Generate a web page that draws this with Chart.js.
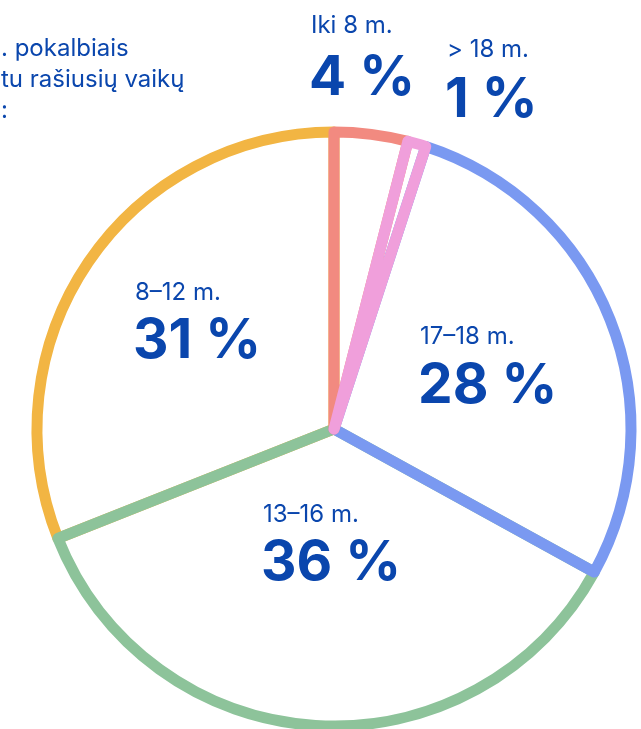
<!DOCTYPE html>
<html lang="lt">
<head>
<meta charset="utf-8">
<script src="https://cdn.jsdelivr.net/npm/chart.js@4/dist/chart.umd.min.js"></script>
<style>
  html, body { margin: 0; padding: 0; background: #fff; overflow: hidden; }
  .chart-container { position: relative; width: 641px; height: 729px; }
</style>
</head>
<body>
<div class="chart-container">
  <canvas id="ageChart"></canvas>
</div>
<script>
// Data
const categories = ['Iki 8 m.', '> 18 m.', '17–18 m.', '13–16 m.', '8–12 m.'];
const shares = [4, 1, 28, 36, 31];
const sliceColors = ['#f28a80', '#f09fdb', '#7a99f1', '#8dc39a', '#f2b543'];
const introLines = ['. pokalbiais', 'tu rašiusių vaikų', ':'];

// Visual layout (not data)
const textBlue = '#0a46ad';
const drawOrder = [4, 3, 2, 0, 1];
const labelSpots = [
    { x: 311, small: 33, big: 95 },
    { x: 447, small: 57, big: 117 },
    { x: 420, small: 344, big: 403 },
    { x: 263, small: 522, big: 580 },
    { x: 135, small: 300, big: 358 }
];

const orderedArcs = {
    id: 'orderedArcs',
    beforeDatasetsDraw(chart) {
        const meta = chart.getDatasetMeta(0);
        drawOrder.forEach(function(i) {
            meta.data[i].draw(chart.ctx, chart.chartArea);
        });
        return false;
    }
};

const sliceLabels = {
    id: 'sliceLabels',
    afterDraw(chart) {
        const ctx = chart.ctx;
        ctx.save();
        ctx.fillStyle = textBlue;
        ctx.textAlign = 'left';
        ctx.textBaseline = 'alphabetic';

        // clipped intro text at top-left
        ctx.font = '24px Inter';
        introLines.forEach(function(line, i) {
            ctx.fillText(line, 1, 56 + i * 31);
        });

        categories.forEach(function(name, i) {
            const spot = labelSpots[i];
            ctx.font = '24px Inter';
            ctx.fillText(name, spot.x, spot.small);
            ctx.font = 'bold 55px Inter';
            ctx.fillText(shares[i] + ' %', spot.x - 2, spot.big);
        });
        ctx.restore();
    }
};

document.addEventListener('DOMContentLoaded', function() {
    const ctx = document.getElementById('ageChart');

    new Chart(ctx.getContext('2d'), {
        type: 'pie',
        data: {
            labels: categories,
            datasets: [{
                data: shares,
                backgroundColor: 'rgba(255, 255, 255, 0)',
                borderColor: sliceColors,
                borderWidth: 11,
                borderJoinStyle: 'round',
                hoverOffset: 0
            }]
        },
        options: {
            responsive: true,
            maintainAspectRatio: false,
            animation: false,
            radius: 297,
            layout: {
                padding: { left: 27, right: 0, top: 129, bottom: 0 }
            },
            plugins: {
                legend: { display: false },
                tooltip: { enabled: false }
            },
            events: []
        },
        plugins: [orderedArcs, sliceLabels]
    });
});
</script>
</body>
</html>
